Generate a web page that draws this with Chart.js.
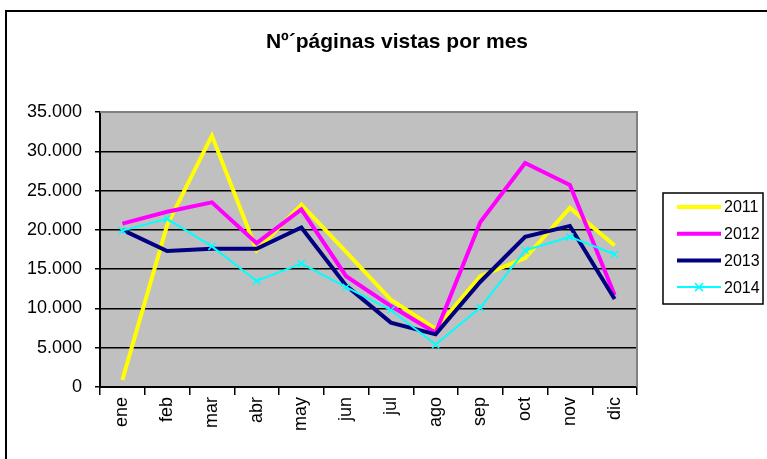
<!DOCTYPE html>
<html lang="es">
  <head>
    <meta charset="UTF-8" />
    <title>Nº páginas vistas por mes</title>
    <script src="https://cdn.jsdelivr.net/npm/chart.js"></script>
    <style>
      body {
        margin: 0;
        padding: 0;
        background: #ffffff;
        overflow: hidden;
      }
      /* outer chart frame, runs off the right and bottom edge */
      .frame {
        position: absolute;
        left: 5px;
        top: 10px;
        width: 900px;
        height: 600px;
        border: 2px solid #000;
      }
      canvas {
        position: absolute;
        left: 0;
        top: 0;
      }
    </style>
  </head>
  <body>
    <div class="frame"></div>
    <canvas id="chart" width="767" height="459"></canvas>

    <script>
      const titleText = "Nº´páginas vistas por mes";
      const months = ["ene", "feb", "mar", "abr", "may", "jun", "jul", "ago", "sep", "oct", "nov", "dic"];
      const years = ["2011", "2012", "2013", "2014"];

      const views2011 = [900, 20600, 32000, 17400, 23200, 17200, 11100, 7400, 14100, 16400, 22800, 18000];
      const views2012 = [20800, 22300, 23500, 18300, 22600, 14100, 10300, 6900, 21000, 28500, 25700, 11700];
      const views2013 = [20000, 17300, 17600, 17600, 20300, 12900, 8200, 6700, 13400, 19100, 20500, 11200];
      const views2014 = [19900, 21400, 17900, 13500, 15700, 12700, 9800, 5400, 10100, 17400, 19100, 16900];

      const yMin = 0;
      const yMax = 35000;
      const yStep = 5000;

      const FONT = "'Liberation Sans', Arial, sans-serif";

      // 35000 -> "35.000"
      function fmt(v) {
        return String(v).replace(/\B(?=(\d{3})+(?!\d))/g, ".");
      }

      // grey plot background, grey top/right border
      const plotArea = {
        id: "plotArea",
        beforeDraw(chart) {
          const { ctx, chartArea: a } = chart;
          ctx.save();
          ctx.fillStyle = "#c0c0c0";
          ctx.fillRect(a.left, a.top, a.right - a.left, a.bottom - a.top);
          ctx.restore();
        },
        beforeDatasetsDraw(chart) {
          const { ctx, chartArea: a } = chart;
          ctx.save();
          ctx.strokeStyle = "#808080";
          ctx.lineWidth = 2;
          ctx.beginPath();
          ctx.moveTo(a.left, a.top);
          ctx.lineTo(a.right, a.top);
          ctx.lineTo(a.right, a.bottom);
          ctx.stroke();
          ctx.restore();
        },
      };

      // title and boxed legend, placed like the spreadsheet chart
      const decor = {
        id: "decor",
        afterDraw(chart) {
          const ctx = chart.ctx;
          ctx.save();
          ctx.fillStyle = "#000";
          ctx.font = "bold 21px " + FONT;
          ctx.textAlign = "center";
          ctx.textBaseline = "alphabetic";
          ctx.fillText(titleText, 397, 48);

          // legend box
          const bx = 663, by = 193, bw = 100, bh = 111;
          ctx.strokeStyle = "#000";
          ctx.lineWidth = 1.5;
          ctx.strokeRect(bx, by, bw, bh);

          ctx.font = "16px " + FONT;
          ctx.textAlign = "left";
          ctx.textBaseline = "middle";
          chart.data.datasets.forEach((ds, i) => {
            const y = 207 + i * 26.7;
            ctx.strokeStyle = ds.borderColor;
            ctx.lineWidth = ds.borderWidth;
            ctx.beginPath();
            ctx.moveTo(677, y);
            ctx.lineTo(721, y);
            ctx.stroke();
            if (ds.pointRadius > 0) {
              const r = ds.pointRadius * 0.8;
              ctx.lineWidth = ds.pointBorderWidth;
              ctx.beginPath();
              ctx.moveTo(699 - r, y - r);
              ctx.lineTo(699 + r, y + r);
              ctx.moveTo(699 + r, y - r);
              ctx.lineTo(699 - r, y + r);
              ctx.stroke();
            }
            ctx.fillStyle = "#000";
            ctx.fillText(ds.label, 724, y + 1);
          });
          ctx.restore();
        },
      };

      function series(label, data, color, width, order, marker) {
        return {
          label,
          data,
          borderColor: color,
          backgroundColor: color,
          borderWidth: width,
          pointRadius: marker ? 5 : 0,
          pointHoverRadius: marker ? 5 : 0,
          pointStyle: "crossRot",
          pointBorderColor: color,
          pointBorderWidth: 1.5,
          fill: false,
          tension: 0,
          order,
        };
      }

      new Chart(document.getElementById("chart"), {
        type: "line",
        data: {
          labels: months,
          datasets: [
            series(years[0], views2011, "#ffff00", 4, 3, false),
            series(years[1], views2012, "#ff00ff", 4, 2, false),
            series(years[2], views2013, "#000080", 4, 1, false),
            series(years[3], views2014, "#00ffff", 2, 0, true),
          ],
        },
        options: {
          responsive: false,
          animation: false,
          events: [],
          layout: { padding: { top: 112, right: 130, left: 0, bottom: 0 } },
          plugins: {
            legend: { display: false },
            title: { display: false },
            tooltip: { enabled: false },
          },
          scales: {
            x: {
              type: "category",
              offset: true,
              grid: {
                offset: true,
                drawOnChartArea: false,
                drawTicks: true,
                tickLength: 8,
                color: "#000",
                lineWidth: 1.5,
              },
              border: { display: true, color: "#000", width: 2 },
              ticks: {
                color: "#000",
                font: { family: FONT, size: 18 },
                minRotation: 90,
                maxRotation: 90,
                padding: 2,
                autoSkip: false,
              },
              afterFit(scale) {
                scale.height = 72;
              },
            },
            y: {
              min: yMin,
              max: yMax,
              grid: {
                color: "#000",
                lineWidth: 1.5,
                drawTicks: true,
                tickLength: 5,
              },
              border: { display: true, color: "#000", width: 2 },
              ticks: {
                stepSize: yStep,
                color: "#000",
                font: { family: FONT, size: 18 },
                padding: 13,
                callback: (v) => fmt(v),
              },
              afterFit(scale) {
                scale.width = 100;
              },
            },
          },
        },
        plugins: [plotArea, decor],
      });
    </script>
  </body>
</html>
